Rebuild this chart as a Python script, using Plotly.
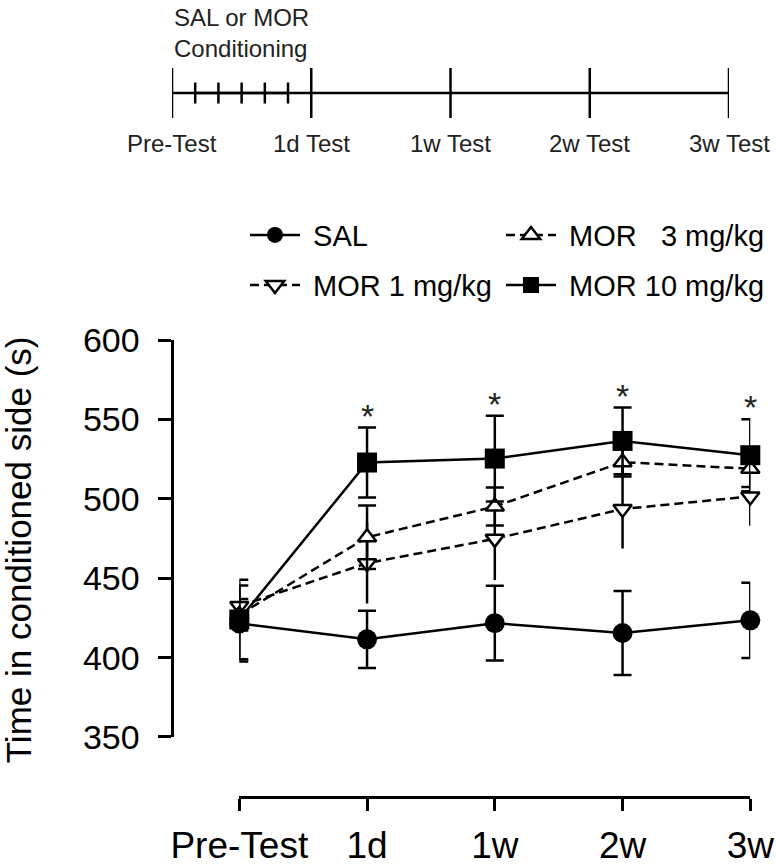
import plotly.graph_objects as go

# ---------------- data ----------------
categories = ["Pre-Test", "1d", "1w", "2w", "3w"]
timeline_labels = ["Pre-Test", "1d Test", "1w Test", "2w Test", "3w Test"]
conditioning_sessions = [1, 2, 3, 4, 5]          # sessions between Pre-Test and 1d Test

sal_mean = [421.5, 411.5, 421.7, 415.5, 423.5]
sal_sem = [24, 18, 23.5, 26.5, 23.7]
mor1_mean = [432.5, 459.5, 474.8, 493.6, 501.5]
mor1_sem = [13, 25.4, 26, 24.9, 18.5]
mor3_mean = [427, 475.8, 495.2, 523.1, 519]
mor3_sem = [10, 20, 12, 9, 11.5]
mor10_mean = [424, 522.9, 525.4, 536.5, 527.5]
mor10_sem = [25, 22, 27, 21, 22.7]
significant = [False, True, True, True, True]

y_ticks = [350, 400, 450, 500, 550, 600]

FONT = "Liberation Sans, Arial, sans-serif"
W, H = 776, 865
B = 68.3
PH = H - B  # paper height in px


def fx(px):
    return px / W


def fy(py):
    return (PH - py) / PH


fig = go.Figure()

xi = list(range(len(categories)))


def add_series(name, mean, sem, symbol, fill, dash, legend, capw, size):
    fig.add_trace(go.Scatter(
        x=xi, y=mean, name="\u00a0" + name, legend=legend,
        mode="lines+markers",
        line=dict(color="black", width=2.5, dash=dash),
        marker=dict(symbol=symbol, size=size, color=fill,
                    line=dict(color="black", width=2.5 if fill == "white" else 0)),
        error_y=dict(type="data", array=sem, visible=True, color="black",
                     thickness=2.5, width=capw),
        cliponaxis=False, hoverinfo="skip",
        xaxis="x", yaxis="y",
    ))


add_series("SAL", sal_mean, sal_sem, "circle", "black", "solid", "legend", 9, 20)
add_series("MOR 1 mg/kg", mor1_mean, mor1_sem, "triangle-down", "white", "9px,5px", "legend3", 0, 16)
add_series("MOR\u00a0\u00a0\u00a03 mg/kg", mor3_mean, mor3_sem, "triangle-up", "white", "9px,5px", "legend2", 9, 16)
add_series("MOR 10 mg/kg", mor10_mean, mor10_sem, "square", "black", "solid", "legend4", 9, 20)

# significance asterisks
for i, s in enumerate(significant):
    if s:
        fig.add_annotation(x=xi[i], y=mor10_mean[i] + mor10_sem[i], xref="x", yref="y",
                           text="*", showarrow=False, yanchor="bottom", yshift=-9,
                           font=dict(family=FONT, size=34, color="#222222"))

# ---------- timeline ----------
fig.add_trace(go.Scatter(
    x=xi, y=[0] * len(xi), mode="lines",
    line=dict(color="black", width=2.5),
    error_y=dict(type="constant", value=1, visible=True, color="black", thickness=2.5, width=0),
    showlegend=False, hoverinfo="skip", xaxis="x3", yaxis="y3", cliponaxis=False,
))
fig.add_trace(go.Scatter(
    x=[c / (len(conditioning_sessions) + 1) for c in conditioning_sessions],
    y=[0] * len(conditioning_sessions), mode="lines",
    line=dict(color="black", width=2.5),
    error_y=dict(type="constant", value=0.42, visible=True, color="black", thickness=2.5, width=0),
    showlegend=False, hoverinfo="skip", xaxis="x3", yaxis="y3", cliponaxis=False,
))
for i, lab in enumerate(timeline_labels):
    fig.add_annotation(x=xi[i], y=-1, xref="x3", yref="y3", text=lab, showarrow=False,
                       xanchor="center", yanchor="top", yshift=-10,
                       font=dict(family=FONT, size=24, color="#222222"))
fig.add_annotation(x=0, y=1, xref="x3", yref="y3", text="SAL or MOR<br>Conditioning",
                   showarrow=False, xanchor="left", yanchor="bottom", yshift=4, align="left",
                   font=dict(family=FONT, size=24, color="#222222"))

# y axis title
fig.add_annotation(x=fx(18), y=fy(550), xref="paper", yref="paper",
                   text="Time in conditioned side (s)", textangle=-90, showarrow=False,
                   xanchor="center", yanchor="middle",
                   font=dict(family=FONT, size=35, color="black"))

legend_common = dict(orientation="v", xanchor="left", yanchor="middle", itemwidth=50,
                     bgcolor="rgba(0,0,0,0)", borderwidth=0,
                     font=dict(family=FONT, size=29, color="black"))

fig.update_layout(
    width=W, height=H,
    margin=dict(l=0, r=0, t=0, b=B, autoexpand=False),
    paper_bgcolor="white", plot_bgcolor="white",
    font=dict(family=FONT, color="black"),
    showlegend=True,
    legend=dict(x=fx(245), y=fy(235), **legend_common),
    legend2=dict(x=fx(501), y=fy(235), **legend_common),
    legend3=dict(x=fx(245), y=fy(285), **legend_common),
    legend4=dict(x=fx(501), y=fy(285), **legend_common),
    xaxis=dict(domain=[fx(239.3), fx(750.3)], range=[0, 4], anchor="free", position=0,
               tickmode="array", tickvals=xi, ticktext=categories,
               showline=True, linecolor="black", linewidth=2.5,
               ticks="outside", ticklen=12, tickwidth=2.5, tickcolor="black",
               ticklabelstandoff=3,
               showgrid=False, zeroline=False,
               tickfont=dict(family=FONT, size=37, color="black")),
    yaxis=dict(domain=[fy(736.7), fy(340)], range=[350, 600], anchor="free", position=fx(171.7),
               tickmode="array", tickvals=y_ticks,
               showline=True, linecolor="black", linewidth=2.5,
               ticks="outside", ticklen=12.5, tickwidth=2.5, tickcolor="black",
               ticklabelstandoff=12,
               showgrid=False, zeroline=False,
               tickfont=dict(family=FONT, size=34, color="black")),
    xaxis3=dict(domain=[fx(172), fx(729)], range=[0, 4], anchor="y3", visible=False),
    yaxis3=dict(domain=[fy(118), fy(68)], range=[-1, 1], anchor="x3", visible=False),
)

# the page body has a default 8px margin; remove it so the figure fills the window
fig.write_html("out.html", config={"displayModeBar": False},
               post_script="document.body.style.margin='0px';")
